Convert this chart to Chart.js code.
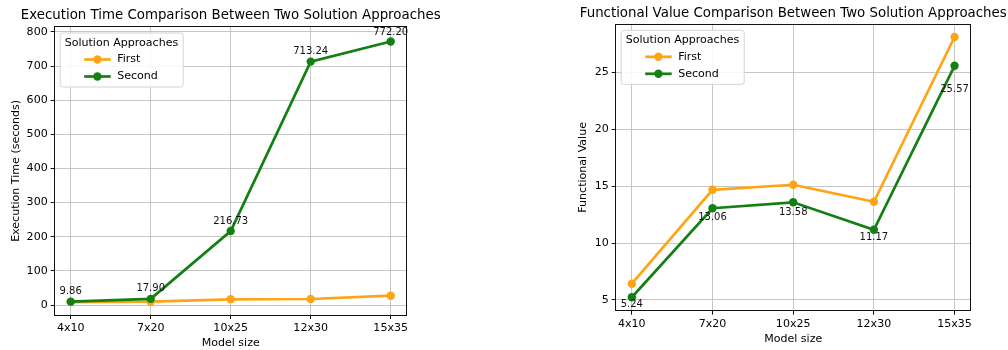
<!DOCTYPE html>
<html>
<head>
<meta charset="utf-8">
<script src="https://cdn.jsdelivr.net/npm/chart.js@4.4.1/dist/chart.umd.min.js"></script>
<style>
  html, body { margin: 0; padding: 0; background: #fff; overflow: hidden; }
  .panel { position: absolute; top: 0; height: 350px; }
  #leftPanel { left: 0; width: 462px; }
  #rightPanel { left: 560px; width: 448px; }
</style>
</head>
<body>
<div class="panel" id="leftPanel"><canvas id="timeChart" width="462" height="350"></canvas></div>
<div class="panel" id="rightPanel"><canvas id="valueChart" width="448" height="350"></canvas></div>
<script>
// Values
const modelSizes = ['4x10', '7x20', '10x25', '12x30', '15x35'];
const seriesNames = ['First', 'Second'];

const timeFirst = [8.5, 9.7, 16.7, 17.6, 27.3];
const timeSecond = [9.86, 17.90, 216.73, 713.24, 772.20];
const timeTicks = [0, 100, 200, 300, 400, 500, 600, 700, 800];

const valueFirst = [6.43, 14.68, 15.12, 13.63, 28.1];
const valueSecond = [5.24, 13.06, 13.58, 11.17, 25.57];
const valueTicks = [5, 10, 15, 20, 25];

const FONT = "'DejaVu Sans', sans-serif";
const ORANGE = '#ffa515';
const GREEN = '#148014';
const GRID = '#c6c6c6';
const TEXT = '#000';

// snap a 1px line onto the pixel grid
const crisp = (v) => Math.round(v - 0.5) + 0.5;

// title centred over the plot area (not over the canvas)
const plotTitle = {
    id: 'plotTitle',
    afterDraw(chart, args, opts) {
        const { ctx, chartArea: a } = chart;
        ctx.save();
        ctx.font = `13.35px ${FONT}`;
        ctx.fillStyle = TEXT;
        ctx.textAlign = 'center';
        ctx.textBaseline = 'middle';
        ctx.fillText(opts.text, (a.left + a.right) / 2, opts.y);
        ctx.restore();
    }
};

// full box around the axes, like matplotlib spines
const frame = {
    id: 'frame',
    afterDatasetsDraw(chart) {
        const { ctx, chartArea: a } = chart;
        const l = crisp(a.left), r = crisp(a.right), t = crisp(a.top), b = crisp(a.bottom);
        ctx.save();
        ctx.strokeStyle = '#111';
        ctx.lineWidth = 1;
        ctx.strokeRect(l, t, r - l, b - t);
        ctx.restore();
    }
};

// value annotations for one dataset
const pointLabels = {
    id: 'pointLabels',
    afterDatasetsDraw(chart, args, opts) {
        const { ctx } = chart;
        const meta = chart.getDatasetMeta(opts.datasetIndex);
        const values = chart.data.datasets[opts.datasetIndex].data;
        ctx.save();
        ctx.font = `10px ${FONT}`;
        ctx.fillStyle = '#111';
        ctx.textAlign = 'center';
        ctx.textBaseline = 'middle';
        meta.data.forEach((pt, i) => {
            ctx.fillText(values[i].y.toFixed(2), pt.x, pt.y + opts.offsets[i]);
        });
        ctx.restore();
    }
};

// legend box drawn inside the upper left corner of the plot
const boxLegend = {
    id: 'boxLegend',
    afterDraw(chart, args, opts) {
        const { ctx, chartArea: a } = chart;
        const x = a.left + 5.5, y = a.top + 6.3, w = 123, h = 54;
        ctx.save();
        ctx.beginPath();
        ctx.roundRect(x, y, w, h, 2.5);
        ctx.fillStyle = 'rgba(255,255,255,0.85)';
        ctx.fill();
        ctx.strokeStyle = '#d4d4d4';
        ctx.lineWidth = 1;
        ctx.stroke();

        ctx.font = `11.05px ${FONT}`;
        ctx.fillStyle = TEXT;
        ctx.textBaseline = 'middle';
        ctx.fillText(opts.title, x + 4.5, y + 10);

        chart.data.datasets.forEach((ds, i) => {
            const ey = y + 26.5 + i * 17;
            ctx.strokeStyle = ds.borderColor;
            ctx.lineWidth = 2.7;
            ctx.beginPath();
            ctx.moveTo(x + 24, ey);
            ctx.lineTo(x + 50.5, ey);
            ctx.stroke();
            ctx.fillStyle = ds.borderColor;
            ctx.beginPath();
            ctx.arc(x + 37.2, ey, 4.2, 0, Math.PI * 2);
            ctx.fill();
            ctx.fillStyle = TEXT;
            ctx.fillText(ds.label, x + 57, ey);
        });
        ctx.restore();
    }
};

function makeChart(canvasId, cfg) {
    const font = { family: FONT, size: 11.05 };
    return new Chart(document.getElementById(canvasId), {
        type: 'line',
        data: {
            datasets: [
                {
                    label: seriesNames[0],
                    data: cfg.first.map((v, i) => ({ x: i, y: v })),
                    borderColor: ORANGE,
                    backgroundColor: ORANGE,
                    order: 1
                },
                {
                    label: seriesNames[1],
                    data: cfg.second.map((v, i) => ({ x: i, y: v })),
                    borderColor: GREEN,
                    backgroundColor: GREEN,
                    order: 0
                }
            ]
        },
        options: {
            responsive: false,
            animation: false,
            events: [],
            layout: { padding: { top: cfg.top, right: cfg.padRight, left: 0, bottom: 0 } },
            elements: {
                line: { borderWidth: 2.7, tension: 0 },
                point: { radius: 4.2, borderWidth: 0, hoverRadius: 4.2 }
            },
            plugins: {
                legend: { display: false },
                tooltip: { enabled: false },
                plotTitle: { text: cfg.title, y: cfg.titleY },
                pointLabels: { datasetIndex: 1, offsets: cfg.labelOffsets },
                boxLegend: { title: 'Solution Approaches' }
            },
            scales: {
                x: {
                    type: 'linear',
                    min: -0.2,
                    max: 4.2,
                    afterBuildTicks: (s) => { s.ticks = modelSizes.map((_, i) => ({ value: i })); },
                    afterFit: (s) => { s.height = cfg.xHeight; },
                    ticks: {
                        callback: (v) => modelSizes[v],
                        font: font,
                        color: TEXT,
                        padding: 3,
                        maxRotation: 0,
                        autoSkip: false
                    },
                    grid: { color: GRID, lineWidth: 1, tickColor: '#111', tickLength: 4 },
                    border: { color: '#111' },
                    title: {
                        display: true,
                        text: 'Model size',
                        font: font,
                        color: TEXT,
                        padding: { top: 0, bottom: cfg.xTitlePad }
                    }
                },
                y: {
                    min: cfg.yMin,
                    max: cfg.yMax,
                    afterBuildTicks: (s) => { s.ticks = cfg.yTicks.map((v) => ({ value: v })); },
                    afterFit: (s) => { s.width = cfg.yWidth; },
                    ticks: { font: font, color: TEXT, padding: 3 },
                    grid: { color: GRID, lineWidth: 1, tickColor: '#111', tickLength: 4 },
                    border: { color: '#111' },
                    title: {
                        display: true,
                        text: cfg.yTitle,
                        font: font,
                        color: TEXT,
                        padding: { top: cfg.yTitlePad, bottom: 0 }
                    }
                }
            }
        },
        plugins: [frame, pointLabels, boxLegend, plotTitle]
    });
}

makeChart('timeChart', {
    first: timeFirst,
    second: timeSecond,
    yTicks: timeTicks,
    yMin: -29.3,
    yMax: 815.5,
    yTitle: 'Execution Time (seconds)',
    title: 'Execution Time Comparison Between Two Solution Approaches',
    titleY: 15.5,
    top: 26.7,
    padRight: 55.3,
    yWidth: 54.7,
    yTitlePad: 9.3,
    xHeight: 35,
    xTitlePad: 0,
    labelOffsets: [-10, -10, -10, -10, -9]
});

makeChart('valueChart', {
    first: valueFirst,
    second: valueSecond,
    yTicks: valueTicks,
    yMin: 4.06,
    yMax: 29.24,
    yTitle: 'Functional Value',
    title: 'Functional Value Comparison Between Two Solution Approaches',
    titleY: 13.5,
    top: 24,
    padRight: 37.3,
    yWidth: 55.7,
    yTitlePad: 16.3,
    xHeight: 39.3,
    xTitlePad: 4.3,
    labelOffsets: [7.5, 9.5, 10, 8, 24]
});
</script>
</body>
</html>
